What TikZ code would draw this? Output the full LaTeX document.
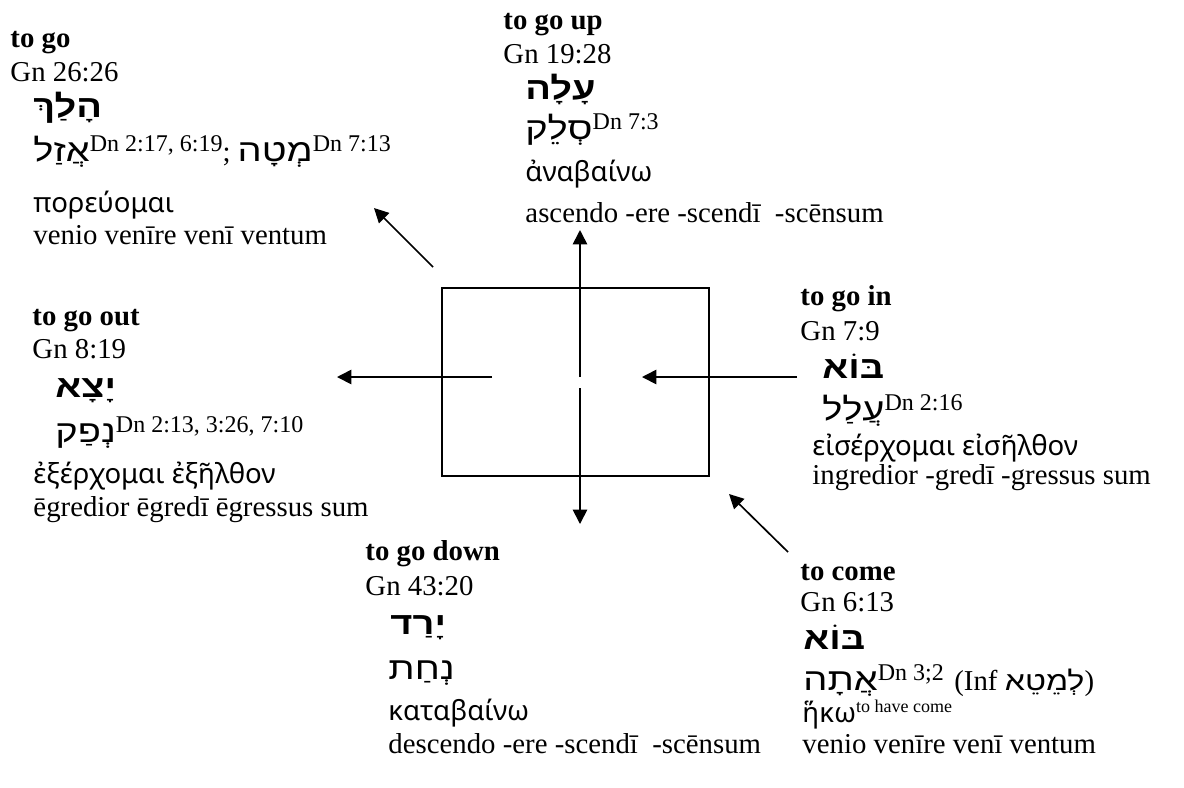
\documentclass[tikz,border=0pt]{standalone}
\usepackage{fontspec}
\setmainfont{Liberation Serif}
\newfontfamily\hebfont[Script=Hebrew, FakeStretch=1.22]{Liberation Sans}
\newfontfamily\gkfont{Noto Sans}
\TeXXeTstate=1
\usetikzlibrary{arrows.meta}

% Hebrew word, right to left
\newcommand\hebw[1]{\beginR#1\endR}
% small raised reference
\newcommand\dnref[2][10]{\raisebox{4pt}{\rmfamily\mdseries\fontsize{#1}{#1}\selectfont #2}}

\tikzset{
  txt/.style={anchor=base west, inner sep=0pt},
  head/.style={txt, font=\fontsize{12}{14}\selectfont\bfseries},
  verb/.style={txt, font=\hebfont\bfseries\fontsize{13}{13}\selectfont},
  aram/.style={txt, font=\hebfont\fontsize{13}{13}\selectfont},
  gk/.style={txt, font=\gkfont\fontsize{11.5}{14}\selectfont},
  arr/.style={-{Triangle[length=6pt,width=6pt]}, line width=0.7pt},
}

\begin{document}
\begin{tikzpicture}[x=0.41667pt, y=-0.41667pt, font=\fontsize{12}{14}\selectfont]
\useasboundingbox (0,0) rectangle (1184,787);

% the room
\node[draw, line width=0.6pt, minimum width=111.25pt, minimum height=78.3pt, inner sep=0pt] (room) at (575.5,382) {};

% arrow ends
\coordinate (up-from) at (580,377);   \coordinate (up-to) at (580,230);
\coordinate (down-from) at (580,388); \coordinate (down-to) at (580,524);
\coordinate (out-from) at (492,377);  \coordinate (out-to) at (337,377);
\coordinate (in-from) at (797,377);   \coordinate (in-to) at (642,377);
\coordinate (go-from) at (433,267);   \coordinate (go-to) at (374,208);
\coordinate (come-from) at (788,552); \coordinate (come-to) at (729,494);

\draw[arr] (up-from) -- (up-to);
\draw[arr] (down-from) -- (down-to);
\draw[arr] (out-from) -- (out-to);
\draw[arr] (in-from) -- (in-to);
\draw[arr] (go-from) -- (go-to);
\draw[arr] (come-from) -- (come-to);

% to go
\begin{scope}[shift={(10,47)}]
\node[head] (go-head) at (0,0) {to go};
\node[txt] (go-ref) at (0,34) {Gn 26:26};
\node[verb] (go-heb) at (23,70) {\hebw{הָלַךְ}};
\node[aram] (go-aram) at (23,114) {\hebw{אֲזַל}\dnref{Dn 2:17, 6:19}{\rmfamily\fontsize{12}{14}\selectfont; }\hebw{מְטָה}\dnref{Dn 7:13}};
\node[gk] (go-gk) at (23,165) {πορεύομαι};
\node[txt] (go-lat) at (23,197) {venio venīre venī ventum};
\end{scope}

% to go up
\begin{scope}[shift={(503,29)}]
\node[head] (up-head) at (0,0) {to go up};
\node[txt] (up-ref) at (0,34) {Gn 19:28};
\node[verb] (up-heb) at (22,70) {\hebw{עָלָה}};
\node[aram] (up-aram) at (22,110) {\hebw{סְלֵק}\dnref{Dn 7:3}};
\node[gk] (up-gk) at (22,152) {ἀναβαίνω};
\node[txt] (up-lat) at (22,193) {ascendo -ere -scendī \ -scēnsum};
\end{scope}

% to go out
\begin{scope}[shift={(32,325)}]
\node[head] (out-head) at (0,0) {to go out};
\node[txt] (out-ref) at (0,33) {Gn 8:19};
\node[verb] (out-heb) at (23,72) {\hebw{יָצָא}};
\node[aram] (out-aram) at (23,117) {\hebw{נְפַק}\dnref{Dn 2:13, 3:26, 7:10}};
\node[gk] (out-gk) at (1,158) {ἐξέρχομαι ἐξῆλθον};
\node[txt] (out-lat) at (1,191) {ēgredior ēgredī ēgressus sum};
\end{scope}

% to go in
\begin{scope}[shift={(800,305)}]
\node[head] (in-head) at (0,0) {to go in};
\node[txt] (in-ref) at (0,35) {Gn 7:9};
\node[verb] (in-heb) at (22,73) {\hebw{בּוֹא}};
\node[aram] (in-aram) at (22,115) {\hebw{עֲלַל}\dnref{Dn 2:16}};
\node[gk] (in-gk) at (12,150) {εἰσέρχομαι εἰσῆλθον};
\node[txt] (in-lat) at (12,179) {ingredior -gredī -gressus sum};
\end{scope}

% to go down
\begin{scope}[shift={(365,560)}]
\node[head] (down-head) at (0,0) {to go down};
\node[txt] (down-ref) at (0,35) {Gn 43:20};
\node[verb] (down-heb) at (25,74) {\hebw{יָרַד}};
\node[aram] (down-aram) at (23,119) {\hebw{נְחַת}};
\node[gk] (down-gk) at (23,160) {καταβαίνω};
\node[txt] (down-lat) at (23,193) {descendo -ere -scendī \ -scēnsum};
\end{scope}

% to come
\begin{scope}[shift={(800,580)}]
\node[head] (come-head) at (0,0) {to come};
\node[txt] (come-ref) at (0,31) {Gn 6:13};
\node[verb] (come-heb) at (3,69) {\hebw{בּוֹא}};
\node[aram] (come-aram) at (3,110) {\hebw{אֲתָה}\dnref{Dn 3;2} {\rmfamily\fontsize{12}{14}\selectfont(Inf {\hebfont\fontsize{11}{11}\selectfont\hebw{לְמֵטֵא}})}};
\node[gk] (come-gk) at (2,142) {ἥκω\dnref[7.5]{to have come}};
\node[txt] (come-lat) at (2,173) {venio venīre venī ventum};
\end{scope}
\end{tikzpicture}
\end{document}
